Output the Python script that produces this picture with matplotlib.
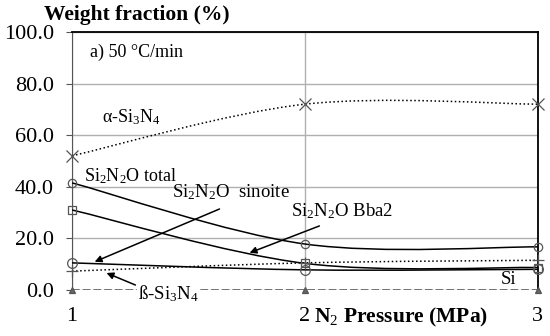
import numpy as np
import matplotlib
matplotlib.use('Agg')
import matplotlib.pyplot as plt
from matplotlib.path import Path
from matplotlib.patches import PathPatch

plt.rcParams['font.family'] = ['Liberation Serif', 'DejaVu Serif']
plt.rcParams['mathtext.fontset'] = 'custom'
plt.rcParams['mathtext.rm'] = 'Liberation Serif'
plt.rcParams['mathtext.it'] = 'Liberation Serif:italic'
plt.rcParams['mathtext.bf'] = 'Liberation Serif:bold'

# data
pressure = [1, 2, 3]
alpha_si3n4 = [52, 72, 72]
si2n2o_total = [41.5, 17.8, 16.7]
si2n2o_bba2 = [31, 10.3, 8.7]
si2n2o_sinoite = [10.5, 7.8, 8.0]
beta_si3n4 = [7.3, 10.5, 11.5]
si = [0, 0, 0]
yticks = [0, 20, 40, 60, 80, 100]


def smooth_path(x, y):
    # Excel-like smoothed line (cubic bezier through each point)
    x = np.asarray(x, float)
    y = np.asarray(y, float)
    pts = np.column_stack([x, y])
    n = len(pts)
    verts = [pts[0]]
    codes = [Path.MOVETO]
    for i in range(n - 1):
        p0 = pts[max(i - 1, 0)]
        p1 = pts[i]
        p2 = pts[i + 1]
        p3 = pts[min(i + 2, n - 1)]
        c1 = p1 + (p2 - p0) / 6
        c2 = p2 - (p3 - p1) / 6
        verts += [c1, c2, p2]
        codes += [Path.CURVE4] * 3
    return Path(verts, codes)


fig = plt.figure(figsize=(5.5, 3.36), dpi=100)
ax = fig.add_axes([0.131, 0.137, 0.847, 0.768])

series = [
    (alpha_si3n4, ':', 'x', 8),
    (si2n2o_total, '-', 'o', 6),
    (si2n2o_bba2, '-', 's', 6),
    (si2n2o_sinoite, '-', 'o', 7),
    (beta_si3n4, ':', '+', 8),
    (si, (0, (5, 2)), '^', 4),
]
for vals, ls, mk, ms in series:
    col = '#555555' if mk == '^' else 'black'
    patch = PathPatch(smooth_path(pressure, vals), transform=ax.transData,
                      facecolor='none', edgecolor=col, lw=1.1, linestyle=ls,
                      zorder=3)
    ax.add_patch(patch)
    ax.plot(pressure, vals, ls='none', marker=mk, ms=ms, mfc='none' if mk != '^' else '#666666',
            mec='#555555', mew=0.9, zorder=4, clip_on=False)

ax.set_xlim(1, 3)
ax.set_ylim(0, 100)
ax.set_yticks(yticks)
ax.set_yticklabels([f'{v:.1f}' for v in yticks], fontsize=16)
ax.set_xticks(pressure)
ax.set_xticklabels(['1', '2', '3'], fontsize=16)
ax.tick_params(axis='x', length=0, pad=12)
ax.tick_params(axis='y', length=4, direction='out', color='#555555', pad=9)

ax.grid(True, color='#b0b0b0', lw=1)
ax.set_axisbelow(True)
ax.spines['bottom'].set_visible(False)
ax.spines['left'].set_color('#555555')
for s in ['top', 'right']:
    ax.spines[s].set_linewidth(1.3)

fig.text(0.08, 0.955, 'Weight fraction (%)', fontsize=15.5, fontweight='bold', va='center')
ax.text(2.04, -10.7, 'N$_2$ Pressure (MPa)', fontsize=15.5, fontweight='bold', va='center')

ax.text(1.077, 91.9, 'a) 50 °C/min', fontsize=13, va='center')
ax.text(1.13, 67, 'α-Si$_3$N$_4$', fontsize=13, va='center')
ax.text(1.05, 44, 'Si$_2$N$_2$O total', fontsize=13, va='center')
ax.text(1.43, 38, 'Si$_2$N$_2$O  sinoite', fontsize=13.5, va='center')
ax.text(1.94, 30.6, 'Si$_2$N$_2$O Bba2', fontsize=13.5, va='center')
ax.text(1.283, -1.5, 'ß-Si$_3$N$_4$', fontsize=13.5, va='center', zorder=5,
        bbox=dict(facecolor='white', edgecolor='none', pad=1))
ax.text(2.84, 4.0, 'Si', fontsize=13.5, va='center')

arrow = dict(arrowstyle='-|>', color='black', lw=1.1, mutation_scale=10)
ax.annotate('', xy=(1.086, 10.5), xytext=(1.644, 31.8), arrowprops=arrow)
ax.annotate('', xy=(1.751, 14), xytext=(2.073, 25.2), arrowprops=arrow)
ax.annotate('', xy=(1.137, 7), xytext=(1.283, 1.5), arrowprops=arrow)

fig.savefig('out.png', dpi=100)
